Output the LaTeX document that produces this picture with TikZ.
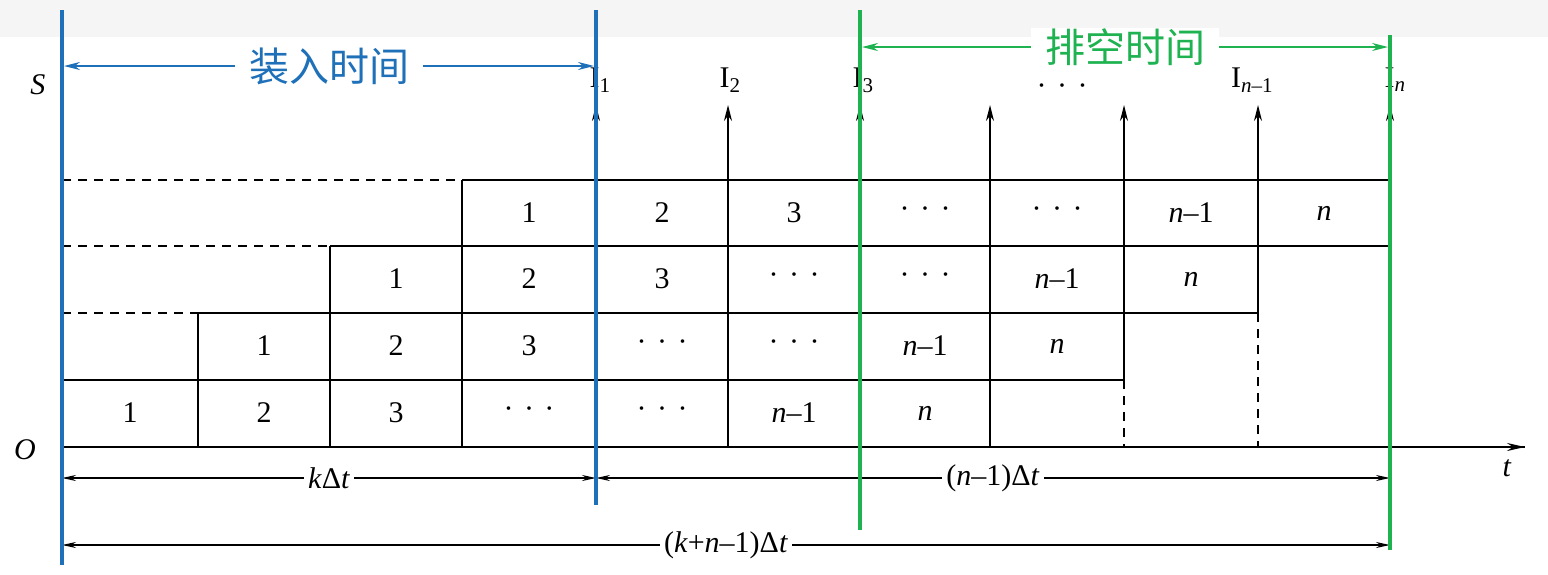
\documentclass[tikz,border=0pt]{standalone}
\usepackage{fontspec}
\setmainfont{Liberation Serif}
\newfontfamily\cjk{Noto Sans CJK SC}
\usetikzlibrary{arrows.meta}
\definecolor{bl}{RGB}{30,112,185}
\definecolor{gr}{RGB}{30,178,80}
\newcommand{\dts}{·\hspace{0.35em}·\hspace{0.35em}·}
\newcommand{\nn}{\textit{n}}
\begin{document}
\begin{tikzpicture}[x=1pt,y=-1pt,
  ln/.style={line width=1.6pt,black},
  dsh/.style={line width=1.6pt,black,dash pattern=on 9pt off 7pt},
  up/.style={line width=1.6pt,-{Stealth[length=16pt,width=8pt]}},
  dim/.style={line width=1.4pt,{Stealth[length=14pt,width=6pt]}-{Stealth[length=14pt,width=6pt]}},
  cell/.style={font=\fontsize{30}{30}\selectfont},
  lab/.style={font=\fontsize{30}{30}\selectfont,fill=white,inner sep=4pt}]
\useasboundingbox (0,0) rectangle (1548,574);
\fill[gray!8] (0,0) rectangle (1548,37);
% grid
\draw[ln] (62,447) -- (1525,447);
\draw[line width=1.6pt,-{Stealth[length=18pt,width=8pt]}] (1390,447) -- (1525,447);
\draw[ln] (62,380) -- (1124,380);
\draw[dsh] (62,313) -- (198,313); \draw[ln] (198,313) -- (1258,313);
\draw[dsh] (62,246) -- (330,246); \draw[ln] (330,246) -- (1390,246);
\draw[dsh] (62,180) -- (462,180); \draw[ln] (462,180) -- (1390,180);
\draw[ln] (198,313) -- (198,447);
\draw[ln] (330,246) -- (330,447);
\draw[ln] (462,180) -- (462,447);
\draw[ln] (596,180) -- (596,447);
\draw[ln] (728,180) -- (728,447);
\draw[ln] (860,180) -- (860,447);
\draw[ln] (990,180) -- (990,447);
\draw[ln] (1124,180) -- (1124,380); \draw[dsh] (1124,380) -- (1124,447);
\draw[ln] (1258,180) -- (1258,313); \draw[dsh] (1258,313) -- (1258,447);
\foreach \x in {596,728,860,990,1124,1258,1390} \draw[up] (\x,180) -- (\x,105);
% cells
\def\xs{{130,264,396,529,662,794,925,1057,1191,1324}}
\foreach \s/\y in {0/413,1/346,2/279,3/213}{
  \foreach \t [count=\i from 0] in {1,2,3,\dts,\dts,{\nn{\textendash}1},\nn}{
    \pgfmathsetmacro\xx{\xs[\s+\i]}
    \node[cell] (c\s\i) at (\xx,\y) {\t};
  }}
% labels
\node[cell,anchor=base] (S) at (38,94) {\textit{S}};
\node[cell] (O) at (25,450) {\textit{O}};
\node[cell] (T) at (1507,468) {\textit{t}};
\node[cell] (I1) at (600,80) {I\textsubscript{1}};
\node[cell] (I2) at (730,80) {I\textsubscript{2}};
\node[cell] (I3) at (863,80) {I\textsubscript{3}};
\node[cell] (In1) at (1252,80) {I\textsubscript{\textit{n}\textendash1}};
\node[cell] (In) at (1395,80) {I\textsubscript{\textit{n}}};
% dims
\coordinate (a0) at (62,478); \coordinate (a1) at (596,478); \coordinate (a2) at (1390,478);
\draw[dim] (a0) -- node[lab]{\textit{k}Δ\textit{t}} (a1);
\draw[dim] (a1) -- node[lab]{(\nn\textendash1)Δ\textit{t}} (a2);
\coordinate (b0) at (62,545); \coordinate (b2) at (1390,545);
\draw[dim] (b0) -- node[lab]{(\textit{k}+\nn\textendash1)Δ\textit{t}} (b2);
% colored
\draw[bl,line width=4pt] (62,10) -- (62,565);
\draw[bl,line width=4pt] (596,10) -- (596,505);
\draw[gr,line width=4pt] (860,10) -- (860,530);
\draw[gr,line width=4pt] (1390,35) -- (1390,550);
\coordinate (p0) at (64,66); \coordinate (p1) at (594,66);
\draw[bl,line width=1.6pt,{Stealth[length=16pt,width=8pt]}-{Stealth[length=16pt,width=8pt]}] (p0) -- node[text=bl,font=\cjk\fontsize{40}{40}\selectfont,fill=white,inner xsep=14pt,inner ysep=0pt]{装入时间} (p1);
\coordinate (q0) at (862,47); \coordinate (q1) at (1388,47);
\draw[gr,line width=1.6pt,{Stealth[length=16pt,width=8pt]}-{Stealth[length=16pt,width=8pt]}] (q0) -- node[text=gr,font=\cjk\fontsize{40}{40}\selectfont,fill=white,inner xsep=14pt,inner ysep=0pt]{排空时间} (q1);
\node[cell] (Id) at (1062,90) {\dts};
\end{tikzpicture}
\end{document}
